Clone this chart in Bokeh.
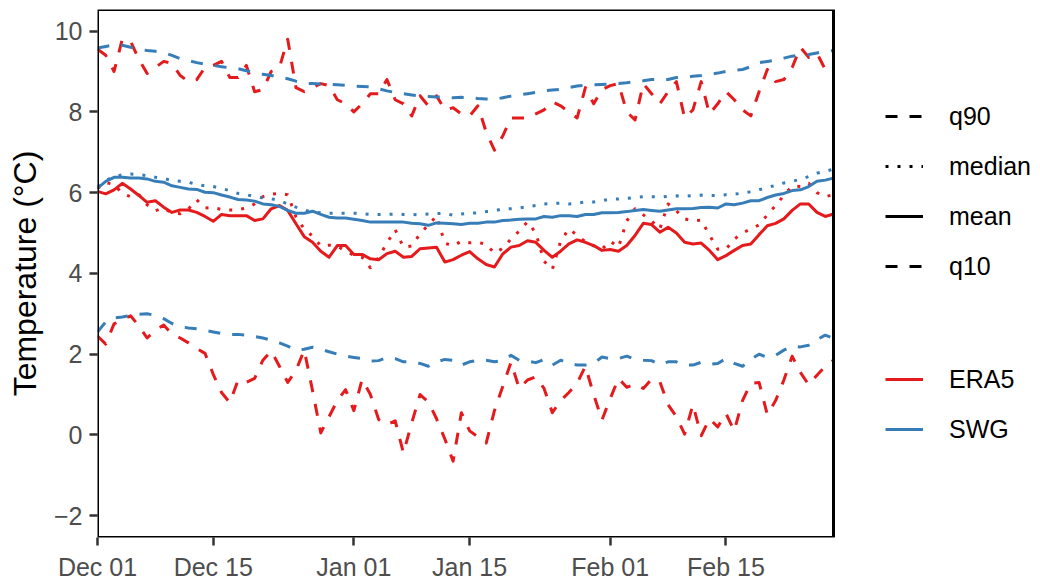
import pandas as pd
from bokeh.plotting import figure
from bokeh.models import Range1d, FixedTicker, DatetimeTickFormatter, Legend, LegendItem, BoxAnnotation
from bokeh.embed import file_html
from bokeh.resources import INLINE

# ---------------- data ----------------
start_date = "2020-12-01"
n_days = 90
tick_dates = ["2020-12-01", "2020-12-15", "2021-01-01", "2021-01-15", "2021-02-01", "2021-02-15"]
y_ticks = [-2, 0, 2, 4, 6, 8, 10]

era5_q90 = [9.55, 9.4, 9.0, 9.8, 9.75, 9.3, 8.95, 9.1, 9.25, 9.2,
            8.9, 8.75, 8.8, 9.1, 9.15, 9.25, 8.85, 8.85, 9.15, 8.5,
            8.55, 9.0, 9.1, 9.8, 8.6, 8.5, 8.6, 8.7, 8.65, 8.3,
            8.2, 8.0, 8.2, 8.45, 8.45, 8.8, 8.3, 8.2, 7.9, 8.4,
            8.15, 8.4, 8.05, 8.1, 7.95, 7.9, 8.15, 7.5, 7.05, 7.4,
            7.85, 7.85, 7.85, 7.95, 8.05, 8.25, 8.15, 8.0, 7.85, 8.6,
            8.2, 8.55, 8.65, 8.7, 8.0, 7.8, 8.7, 8.45, 8.2, 8.5,
            8.75, 7.85, 8.05, 8.75, 7.95, 8.2, 8.5, 8.3, 8.05, 7.9,
            8.5, 9.05, 8.75, 8.8, 9.1, 9.6, 9.35, 9.45, 9.05, 9.2]

swg_q90 = [9.58, 9.62, 9.66, 9.65, 9.6, 9.55, 9.52, 9.5, 9.47, 9.4,
           9.32, 9.27, 9.22, 9.18, 9.15, 9.12, 9.09, 9.07, 9.02, 8.96,
           8.93, 8.9, 8.86, 8.82, 8.76, 8.71, 8.7, 8.69, 8.68, 8.67,
           8.66, 8.64, 8.63, 8.62, 8.57, 8.52, 8.48, 8.45, 8.42, 8.39,
           8.38, 8.37, 8.36, 8.35, 8.36, 8.35, 8.33, 8.32, 8.31, 8.35,
           8.39, 8.42, 8.45, 8.48, 8.52, 8.54, 8.56, 8.6, 8.64, 8.66,
           8.67, 8.68, 8.69, 8.7, 8.72, 8.75, 8.77, 8.8, 8.8, 8.8,
           8.85, 8.86, 8.88, 8.9, 8.93, 8.96, 9.0, 9.03, 9.05, 9.12,
           9.22, 9.25, 9.28, 9.33, 9.38, 9.4, 9.42, 9.46, 9.5, 9.52]

era5_median = [6.1, 6.25, 6.2, 5.98, 5.9, 5.95, 5.7, 5.55, 5.62, 5.5,
               5.48, 5.6, 5.82, 5.62, 5.63, 5.58, 5.57, 5.58, 5.62, 5.72,
               5.9, 5.96, 5.98, 5.95, 5.4, 5.1, 4.92, 4.68, 4.7, 4.68,
               4.55, 4.45, 4.4, 4.14, 4.4, 4.75, 5.08, 4.65, 4.68, 4.98,
               5.2, 5.42, 4.75, 4.68, 4.8, 4.76, 4.77, 4.72, 4.5, 4.62,
               4.85, 5.05, 5.28, 5.0, 4.3, 4.1, 4.8, 5.1, 4.95, 4.78,
               4.68, 4.6, 4.8, 4.65, 5.3, 5.6, 5.45, 5.3, 5.1, 5.72,
               5.55, 5.35, 5.3, 5.32, 4.95, 4.6, 4.6, 4.85, 5.0, 5.1,
               5.2, 5.45, 5.68, 5.93, 6.17, 6.15, 6.23, 6.0, 5.9, 5.95]

swg_median = [6.15, 6.3, 6.4, 6.44, 6.46, 6.45, 6.42, 6.38, 6.35, 6.3,
              6.28, 6.26, 6.2, 6.17, 6.15, 6.1, 6.05, 5.98, 5.95, 5.9,
              5.87, 5.85, 5.8, 5.72, 5.64, 5.57, 5.52, 5.5, 5.49, 5.49,
              5.49, 5.49, 5.48, 5.46, 5.46, 5.46, 5.47, 5.46, 5.46, 5.45,
              5.47, 5.48, 5.49, 5.44, 5.47, 5.49, 5.5, 5.53, 5.55, 5.6,
              5.6, 5.62, 5.65, 5.68, 5.72, 5.73, 5.74, 5.72, 5.74, 5.77,
              5.77, 5.8, 5.84, 5.84, 5.86, 5.88, 5.9, 5.9, 5.89, 5.91,
              5.92, 5.91, 5.93, 5.94, 5.93, 5.93, 5.95, 5.96, 5.99, 6.02,
              6.07, 6.13, 6.18, 6.24, 6.28, 6.33, 6.4, 6.48, 6.53, 6.58]

era5_mean = [6.03, 5.97, 6.07, 6.23, 6.09, 5.93, 5.76, 5.8, 5.64, 5.51,
             5.57, 5.57, 5.51, 5.41, 5.29, 5.46, 5.43, 5.43, 5.43, 5.31,
             5.35, 5.6, 5.68, 5.56, 5.23, 4.91, 4.77, 4.55, 4.4, 4.69,
             4.69, 4.47, 4.47, 4.36, 4.34, 4.49, 4.55, 4.4, 4.42, 4.61,
             4.63, 4.65, 4.28, 4.34, 4.45, 4.54, 4.36, 4.22, 4.16, 4.48,
             4.65, 4.69, 4.81, 4.77, 4.57, 4.4, 4.55, 4.73, 4.83, 4.77,
             4.69, 4.57, 4.59, 4.55, 4.69, 4.94, 5.24, 5.21, 5.02, 5.14,
             5.0, 4.77, 4.73, 4.75, 4.57, 4.34, 4.44, 4.57, 4.69, 4.73,
             4.96, 5.18, 5.24, 5.35, 5.56, 5.72, 5.72, 5.51, 5.41, 5.47]

swg_mean = [6.11, 6.28, 6.38, 6.38, 6.36, 6.36, 6.34, 6.28, 6.26, 6.17,
            6.13, 6.09, 6.08, 6.01, 6.0, 5.94, 5.89, 5.83, 5.82, 5.79,
            5.72, 5.7, 5.66, 5.56, 5.49, 5.49, 5.54, 5.46, 5.39, 5.37,
            5.37, 5.34, 5.31, 5.27, 5.27, 5.27, 5.27, 5.27, 5.24, 5.23,
            5.19, 5.25, 5.24, 5.23, 5.21, 5.24, 5.24, 5.27, 5.27, 5.31,
            5.32, 5.34, 5.35, 5.35, 5.41, 5.39, 5.43, 5.43, 5.41, 5.46,
            5.46, 5.5, 5.5, 5.51, 5.53, 5.56, 5.58, 5.56, 5.54, 5.57,
            5.6, 5.6, 5.61, 5.63, 5.64, 5.62, 5.72, 5.7, 5.74, 5.8,
            5.8, 5.88, 5.94, 5.98, 6.05, 6.07, 6.15, 6.28, 6.31, 6.36]

era5_q10 = [2.45, 2.25, 2.75, 2.85, 2.95, 2.7, 2.4, 2.6, 2.72, 2.5,
            2.4, 2.28, 2.14, 2.02, 1.5, 1.05, 0.8, 1.36, 1.3, 1.4,
            1.85, 2.08, 1.7, 1.3, 1.6, 2.1, 1.1, 0.05, 0.45, 0.85,
            1.12, 0.6, 1.38, 1.0, 0.38, 0.25, 0.35, -0.45, 0.3, 1.0,
            0.82, 0.4, -0.1, -0.65, 0.55, 0.1, -0.05, -0.2, 0.6, 1.2,
            1.8, 1.15, 1.36, 1.44, 1.15, 0.55, 0.85, 1.05, 1.28, 1.7,
            1.0, 0.37, 0.9, 1.4, 1.18, 1.26, 1.15, 1.38, 1.32, 0.75,
            0.45, 0.02, 0.75, -0.02, 0.4, 0.2, 0.53, 0.1, 0.85, 1.28,
            1.3, 0.5, 0.85, 1.36, 1.95, 1.55, 1.24, 1.48, 1.7, 1.85]

swg_q10 = [2.55, 2.8, 2.9, 2.92, 2.96, 2.99, 3.0, 2.96, 2.88, 2.76,
           2.68, 2.65, 2.63, 2.59, 2.55, 2.51, 2.49, 2.49, 2.47, 2.44,
           2.4, 2.35, 2.28, 2.2, 2.1, 2.12, 2.17, 2.12, 2.06, 2.0,
           1.95, 1.92, 1.89, 1.83, 1.84, 1.92, 1.89, 1.81, 1.81, 1.77,
           1.7, 1.81, 1.87, 1.85, 1.73, 1.81, 1.85, 1.85, 1.81, 1.85,
           1.97, 1.85, 1.83, 1.79, 1.87, 1.73, 1.85, 1.77, 1.73, 1.73,
           1.77, 1.93, 1.89, 1.89, 1.95, 1.87, 1.85, 1.84, 1.74, 1.81,
           1.81, 1.73, 1.73, 1.8, 1.75, 1.77, 1.89, 1.77, 1.7, 1.87,
           2.0, 1.92, 1.97, 2.1, 2.2, 2.18, 2.22, 2.36, 2.47, 2.39]

stat_labels = ["q90", "median", "mean", "q10"]
source_labels = ["ERA5", "SWG"]
source_colors = ["#E41A1C", "#377EB8"]
y_label = "Temperature (°C)"

# ---------------- layout ----------------
dates = pd.date_range(start_date, periods=n_days, freq="D")
FONT = "Liberation Sans"
DASH = "12 12"
DOT = "3 9"
LW = 3

W, H = 1040, 583
LEFT, TOP, BOTTOM = 97, 9, 44
PANEL_W = 736                       # width of the data panel inside the frame
FRAME_W = W - LEFT                  # frame extends under the legend area
span = dates[-1] - dates[0]
x_end = dates[0] + span * (FRAME_W / PANEL_W)
y_lo, y_hi = -2.54, 10.535

p = figure(width=W, height=H, output_backend="svg", toolbar_location=None,
           x_axis_type="datetime",
           x_range=Range1d(dates[0], x_end),
           y_range=Range1d(y_lo, y_hi),
           min_border_left=LEFT, min_border_right=0, min_border_top=TOP, min_border_bottom=BOTTOM)

p.background_fill_color = "white"
p.border_fill_color = "white"
p.outline_line_color = None
p.xgrid.visible = False
p.ygrid.visible = False

series = {
    ("ERA5", "q90"): era5_q90, ("SWG", "q90"): swg_q90,
    ("ERA5", "median"): era5_median, ("SWG", "median"): swg_median,
    ("ERA5", "mean"): era5_mean, ("SWG", "mean"): swg_mean,
    ("ERA5", "q10"): era5_q10, ("SWG", "q10"): swg_q10,
}
dash_of = {"q90": DASH, "median": DOT, "mean": "solid", "q10": DASH}
color_of = dict(zip(source_labels, source_colors))

for stat in ["q10", "q90", "median", "mean"]:
    for src in source_labels:
        p.line(dates, series[(src, stat)], line_color=color_of[src], line_width=LW,
               line_dash=dash_of[stat], line_cap="butt", line_join="round")

# panel border (black box around the data panel)
p.add_layout(BoxAnnotation(left=dates[0], right=dates[-1], bottom=y_lo, top=y_hi,
                           fill_alpha=0, line_color="black", line_alpha=1.0, line_width=3))

# axes
p.xaxis.ticker = FixedTicker(ticks=[pd.Timestamp(d).value / 1e6 for d in tick_dates])
p.xaxis.formatter = DatetimeTickFormatter(days="%b %d", months="%b %d", years="%b %d",
                                          hours="%b %d", minutes="%b %d")
p.yaxis.ticker = FixedTicker(ticks=y_ticks)
p.yaxis.major_label_overrides = {t: ("\u2212" + str(abs(t)) if t < 0 else str(t)) for t in y_ticks}
p.yaxis.axis_label = y_label

for ax in (p.xaxis[0], p.yaxis[0]):
    ax.axis_line_color = None
    ax.major_tick_line_color = "#333333"
    ax.major_tick_line_width = 2.5
    ax.major_tick_out = 8
    ax.major_tick_in = 0
    ax.minor_tick_line_color = None
    ax.major_label_text_font = FONT
    ax.major_label_text_font_size = "25px"
    ax.major_label_text_color = "#4D4D4D"
    ax.major_label_standoff = 7
p.yaxis.axis_label_text_font = FONT
p.yaxis.axis_label_text_font_size = "32px"
p.yaxis.axis_label_text_font_style = "normal"
p.yaxis.axis_label_text_color = "black"
p.yaxis.axis_label_standoff = 8

# legends (key-only renderers: one point with no value, so nothing is drawn in the panel)
nan = float("nan")
lt_items = []
for stat in stat_labels:
    r = p.line([dates[0]], [nan], line_color="black", line_width=LW,
               line_dash=dash_of[stat], line_cap="butt")
    lt_items.append(LegendItem(label=stat, renderers=[r]))
col_items = []
for src in source_labels:
    r = p.line([dates[0]], [nan], line_color=color_of[src], line_width=LW)
    col_items.append(LegendItem(label=src, renderers=[r]))

def style_legend(lg):
    lg.glyph_width = 38
    lg.glyph_height = 30
    lg.label_height = 30
    lg.label_standoff = 26
    lg.spacing = 20
    lg.padding = 0
    lg.margin = 0
    lg.border_line_color = None
    lg.background_fill_alpha = 0
    lg.label_text_font = FONT
    lg.label_text_font_size = "25px"
    lg.label_text_color = "black"

# location = (x of left edge, y of bottom edge) in pixels from the frame's bottom-left
leg1 = Legend(items=lt_items, location=(788, 256))
leg2 = Legend(items=col_items, location=(788, 93))
style_legend(leg1)
style_legend(leg2)
p.add_layout(leg1, "center")
p.add_layout(leg2, "center")

open("out.html", "w").write(file_html(p, INLINE))
